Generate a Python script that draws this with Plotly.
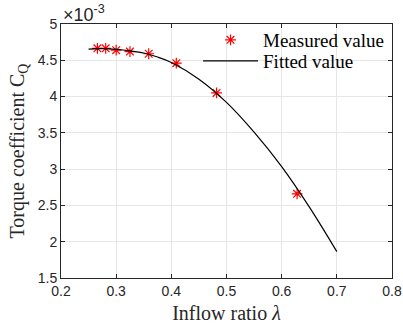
import plotly.graph_objects as go

# Measured data (Torque coefficient in units of 1e-3)
meas_x = [0.266, 0.281, 0.300, 0.325, 0.359, 0.409, 0.482, 0.628]
meas_y = [4.665, 4.665, 4.640, 4.620, 4.590, 4.460, 4.050, 2.660]

# Fitted curve
fit_x = [0.25, 0.275, 0.30, 0.325, 0.35, 0.375, 0.40, 0.45, 0.50, 0.55, 0.60, 0.65, 0.70]
fit_y = [4.655, 4.660, 4.650, 4.630, 4.600, 4.545, 4.470, 4.240, 3.920, 3.510, 3.035, 2.480, 1.864]

x_ticks = [0.2, 0.3, 0.4, 0.5, 0.6, 0.7, 0.8]
y_ticks = [1.5, 2, 2.5, 3, 3.5, 4, 4.5, 5]
y_tick_labels = ["1.5", "2", "2.5", "3", "3.5", "4", "4.5", "5"]

fig = go.Figure()
fig.add_trace(go.Scatter(
    x=meas_x, y=meas_y, mode="markers", name="Measured value", legend="legend",
    marker=dict(symbol="asterisk-open", size=9, color="red",
                line=dict(color="red", width=1.2)),
))
fig.add_trace(go.Scatter(
    x=fit_x, y=fit_y, mode="lines", name="Fitted value", legend="legend2",
    line=dict(color="black", width=1.2, shape="spline"),
))

serif = "Liberation Serif, Times New Roman, serif"
sans = "Liberation Sans, Arial, sans-serif"

axis_common = dict(
    showline=True, linecolor="#262626", linewidth=1, mirror="ticks",
    ticks="inside", ticklen=4, tickcolor="#262626",
    showgrid=True, gridcolor="#e6e6e6", gridwidth=1, zeroline=False,
    tickfont=dict(family=sans, size=14, color="#262626"),
    automargin=False,
)

leg_common = dict(xanchor="left", yanchor="top", bgcolor="rgba(0,0,0,0)",
                  font=dict(family=serif, size=19, color="black"),
                  itemwidth=55)

fig.update_layout(
    width=403, height=324,
    margin=dict(l=61, r=11, t=24, b=46, autoexpand=False),
    paper_bgcolor="white", plot_bgcolor="white",
    showlegend=True,
    legend=dict(x=0.414, y=1.012, **leg_common),
    legend2=dict(x=0.414, y=0.929, **leg_common),
    xaxis=dict(range=[0.2, 0.8], tickvals=x_ticks,
               title=dict(text="Inflow ratio <i>λ</i>", font=dict(family=serif, size=20, color="#262626"), standoff=8),
               **axis_common),
    yaxis=dict(range=[1.5, 5], tickvals=y_ticks, ticktext=y_tick_labels,
               title=dict(text="Torque coefficient C<sub>Q</sub>", font=dict(family=serif, size=20, color="#262626"), standoff=7),
               **axis_common),
)

fig.add_annotation(
    xref="paper", yref="paper", x=0, y=1, xanchor="left", yanchor="bottom",
    text="×10<sup>-3</sup>", showarrow=False,
    font=dict(family=sans, size=18, color="#262626"), yshift=-3,
)

fig.write_html("out.html")
